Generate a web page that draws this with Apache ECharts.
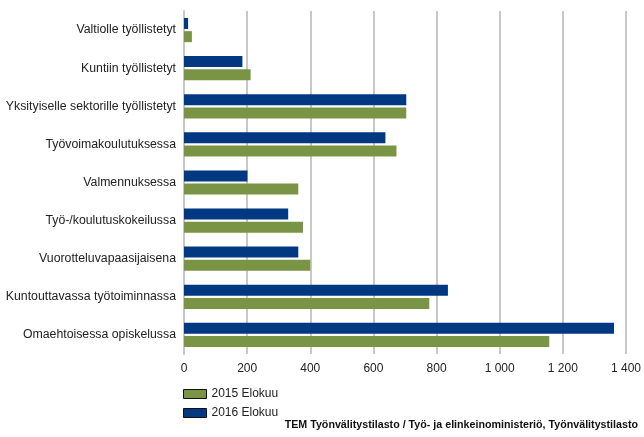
<!DOCTYPE html>
<html><head><meta charset="utf-8">
<script src="https://cdn.jsdelivr.net/npm/echarts@6/dist/echarts.min.js"></script>
<style>html,body{margin:0;padding:0;background:#fff}#c{width:644px;height:437px}</style>
</head><body><div id="c"></div>
<script>
const categories = ["Valtiolle työllistetyt","Kuntiin työllistetyt","Yksityiselle sektorille työllistetyt","Työvoimakoulutuksessa","Valmennuksessa","Työ-/koulutuskokeilussa","Vuorotteluvapaasijaisena","Kuntouttavassa työtoiminnassa","Omaehtoisessa opiskelussa"];
const values2016 = [13, 185, 704, 638, 201, 330, 362, 836, 1362];
const values2015 = [25, 211, 704, 673, 362, 377, 400, 777, 1157];
const seriesNames = ["2015 Elokuu", "2016 Elokuu"];
const sourceText = "TEM Työnvälitystilasto / Työ- ja elinkeinoministeriö, Työnvälitystilasto";

const chart = echarts.init(document.getElementById('c'));
const font = "'Liberation Sans', Arial, sans-serif";
chart.setOption({
  animation: false,
  textStyle: {fontFamily: font},
  grid: {left: 184, right: 15, top: 11, bottom: 83, containLabel: false},
  legend: {
    data: seriesNames, orient: 'vertical', left: 178, top: 383, itemGap: 7,
    itemWidth: 23, itemHeight: 9, icon: 'rect',
    textStyle: {fontFamily: font, fontSize: 12, color: '#222'},
    itemStyle: {borderColor: '#111', borderWidth: 1}
  },
  xAxis: {
    type: 'value', min: 0, max: 1400, interval: 200,
    axisLine: {show: false}, axisTick: {show: false},
    splitLine: {lineStyle: {color: '#c8c8c8', width: 2}},
    axisLabel: {fontFamily: font, fontSize: 12, color: '#222', margin: 9,
      formatter: v => String(v).replace(/\B(?=(\d{3})+(?!\d))/g, ' ')}
  },
  yAxis: {
    type: 'category', data: categories, inverse: true,
    axisLine: {show: true, lineStyle: {color: '#c8c8c8', width: 2}},
    axisTick: {show: false},
    axisLabel: {fontFamily: font, fontSize: 12.3, color: '#222', margin: 8}
  },
  graphic: [{type: 'text', right: 6, top: 420,
    style: {text: sourceText, fontFamily: font, fontSize: 10.7, fontWeight: 'bold', fill: '#111'}}],
  series: [
    {name: seriesNames[1], type: 'bar', data: values2016, barWidth: 11, barGap: '20%',
      itemStyle: {color: '#003882'}},
    {name: seriesNames[0], type: 'bar', data: values2015, barWidth: 11, barGap: '20%',
      itemStyle: {color: '#7a9445'}}
  ]
});
</script></body></html>
